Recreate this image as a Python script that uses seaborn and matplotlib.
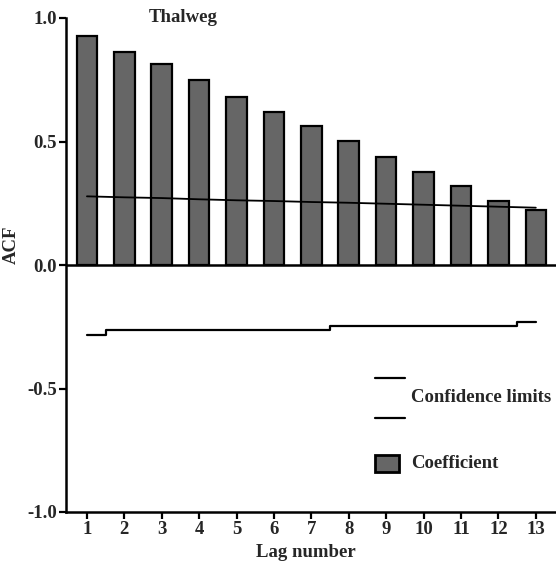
import matplotlib
matplotlib.use("Agg")
import matplotlib.pyplot as plt
import seaborn as sns
import pandas as pd
import numpy as np

# ---- data ----
lags = [1, 2, 3, 4, 5, 6, 7, 8, 9, 10, 11, 12, 13]
acf_coef = [0.926, 0.864, 0.813, 0.748, 0.681, 0.620, 0.562, 0.501, 0.439, 0.375, 0.320, 0.258, 0.222]
conf_upper = [0.278, 0.274, 0.271, 0.266, 0.262, 0.259, 0.255, 0.252, 0.248, 0.244, 0.240, 0.236, 0.232]
conf_lower = [-0.283, -0.264, -0.264, -0.264, -0.264, -0.264, -0.264, -0.246, -0.246, -0.246, -0.246, -0.246, -0.229]
y_ticks = [-1.0, -0.5, 0.0, 0.5, 1.0]
y_ticklabels = ["-1.0", "-0.5", "0.0", "0.5", "1.0"]
title_text = "Thalweg"

df = pd.DataFrame({"lag": lags, "acf": acf_coef, "upper": conf_upper, "lower": conf_lower})

sns.set_style("white")
plt.rcParams["font.family"] = ["Liberation Serif", "DejaVu Serif"]
plt.rcParams["font.weight"] = "bold"
plt.rcParams["axes.unicode_minus"] = False

FS = 13.5

fig = plt.figure(figsize=(5.56, 5.65), dpi=100)
ax = fig.add_axes([66 / 556, 1 - 512 / 565, 490 / 556, 494 / 565])

sns.barplot(data=df, x="lag", y="acf", native_scale=True, width=0.55,
            color="#666666", saturation=1, edgecolor="black", linewidth=1.6, ax=ax)
sns.lineplot(data=df, x="lag", y="upper", color="black", linewidth=1.3, ax=ax)
sns.lineplot(data=df, x="lag", y="lower", color="black", linewidth=1.6,
             drawstyle="steps-mid", ax=ax)

ax.axhline(0, color="black", linewidth=1.8, zorder=5)

ax.set_xlim(0.44, 13.54)
ax.set_ylim(-1.0, 1.0)
ax.set_xticks(lags)
ax.set_xticklabels([str(l) for l in lags], fontsize=FS, fontweight="bold")
ax.set_yticks(y_ticks)
ax.set_yticklabels(y_ticklabels, fontsize=FS, fontweight="bold")

for s in ["top", "right"]:
    ax.spines[s].set_visible(False)
for s in ["left", "bottom"]:
    ax.spines[s].set_linewidth(1.8)
    ax.spines[s].set_color("black")

ax.tick_params(axis="both", which="major", direction="out", length=5, width=1.6,
               color="black", pad=1.5, bottom=True, left=True)

ax.set_xlabel("Lag number", fontsize=FS, fontweight="bold", labelpad=0)
ax.set_ylabel("ACF", fontsize=FS, fontweight="bold")
ax.yaxis.set_label_coords(-0.094, 0.54)
ax.xaxis.set_label_coords(0.49, -0.065)

ax.text(0.24, 1.0, title_text, transform=ax.transAxes, ha="center", va="center",
        fontsize=FS, fontweight="bold")

# ---- legend (drawn in axes coordinates) ----
ax.plot([0.631, 0.692], [0.271, 0.271], transform=ax.transAxes, color="black", lw=1.6)
ax.plot([0.631, 0.692], [0.190, 0.190], transform=ax.transAxes, color="black", lw=1.6)
ax.text(0.705, 0.231, "Confidence limits", transform=ax.transAxes, ha="left",
        va="center", fontsize=FS, fontweight="bold")
ax.add_patch(plt.Rectangle((0.630, 0.080), 0.050, 0.036, transform=ax.transAxes,
                           facecolor="#666666", edgecolor="black", lw=2.0))
ax.text(0.705, 0.099, "Coefficient", transform=ax.transAxes, ha="left",
        va="center", fontsize=FS, fontweight="bold")

fig.savefig("out.png", dpi=100)
